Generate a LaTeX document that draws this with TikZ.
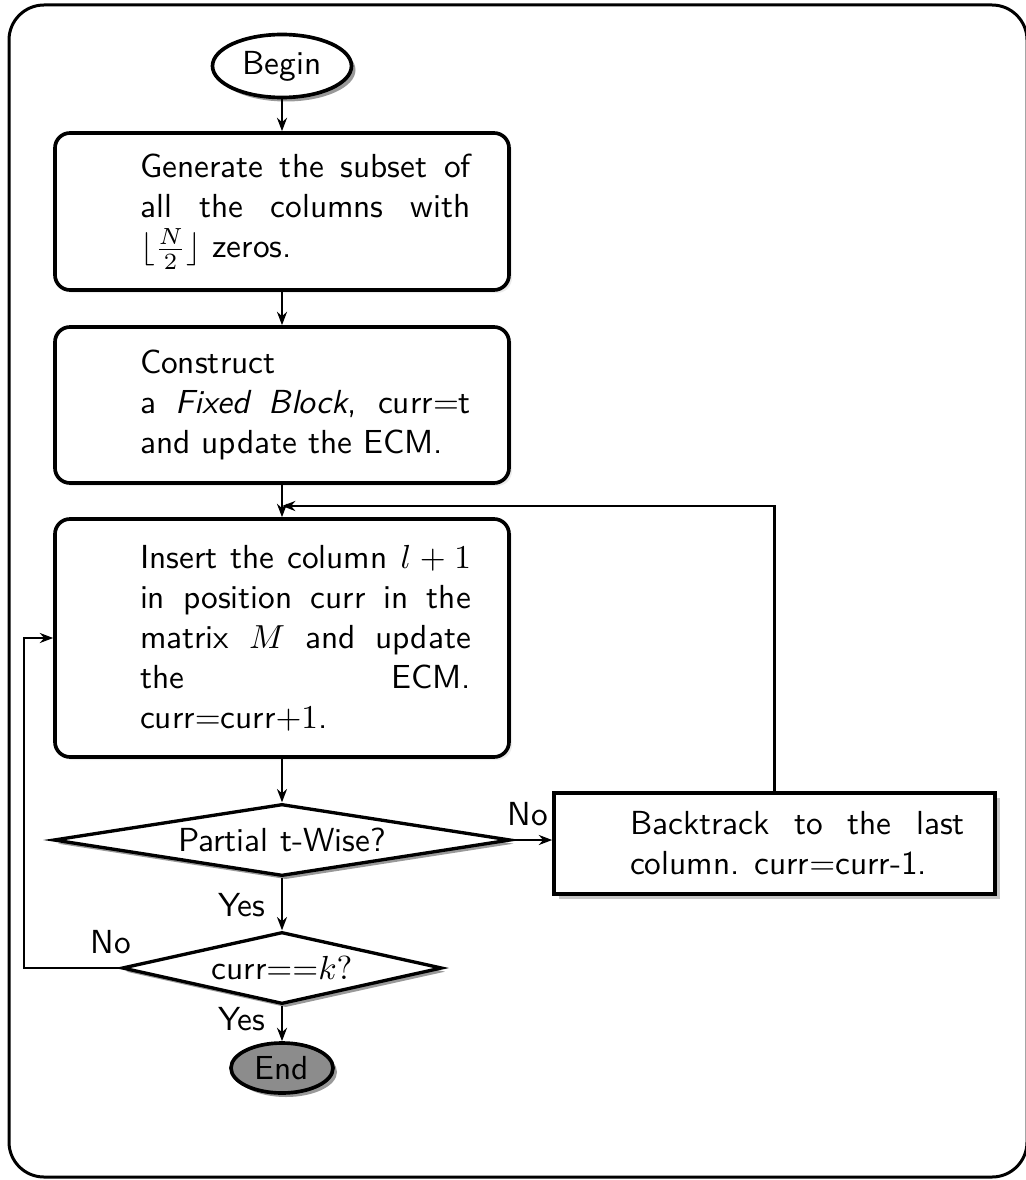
\documentclass[tikz,border=0pt]{standalone}
\usetikzlibrary{shapes.geometric,arrows.meta,shadows}
\begin{document}
\begin{tikzpicture}[x=0.3pt,y=-0.3pt,
  proc/.style={draw, line width=1.1pt, rounded corners=4.5pt, fill=white,
    inner xsep=11.4pt, inner ysep=0pt, minimum width=136.2pt, font=\sffamily,
    drop shadow={shadow xshift=0.9pt, shadow yshift=-0.9pt, opacity=0.15}},
  btbox/.style={draw, line width=1.1pt, fill=white,
    inner xsep=9pt, inner ysep=0pt, minimum width=132.3pt, minimum height=30.3pt, font=\sffamily,
    drop shadow={shadow xshift=1.5pt, shadow yshift=-1.5pt, opacity=0.45}},
  dec/.style={draw, diamond, line width=1pt, fill=white, inner sep=0pt, font=\sffamily,
    drop shadow={shadow xshift=1.1pt, shadow yshift=-1.1pt, opacity=0.8}},
  term/.style={draw, ellipse, line width=1.1pt, inner sep=0pt, font=\sffamily,
    drop shadow={shadow xshift=1.2pt, shadow yshift=-1.2pt, opacity=0.8}},
  arr/.style={-{Stealth[length=4pt,width=3pt]}, line width=0.7pt},
  lbl/.style={font=\sffamily, inner sep=0pt, anchor=base}]
\useasboundingbox (0,0) rectangle (1026,1180);
\draw[line width=0.9pt, rounded corners=10.5pt] (9,5) rectangle (1027,1177);

\node[term, fill=white, minimum width=41.7pt, minimum height=18.9pt] (begin) at (282,66) {Begin};

\node[proc, minimum height=47.1pt] (b1) at (282,211.5) {\hspace*{14.1pt}\parbox{99.3pt}{%
\makebox[\linewidth][s]{Generate the subset of}\\
\makebox[\linewidth][s]{all the columns with}\\
$\lfloor\frac{N}{2}\rfloor$ zeros.}};

\node[proc, minimum height=46.8pt] (b2) at (282,405) {\hspace*{14.1pt}\parbox{99.3pt}{%
Construct\\
\makebox[\linewidth][s]{a \textit{Fixed Block}, curr$=$t}\\
and update the ECM.}};

\node[proc, minimum height=71.4pt] (b3) at (282,638) {\hspace*{14.1pt}\parbox{99.3pt}{%
\makebox[\linewidth][s]{Insert the column $l+1$}\\
\makebox[\linewidth][s]{in position curr in the}\\
\makebox[\linewidth][s]{matrix $M$ and update}\\
\makebox[\linewidth][s]{the ECM.}\\
curr$=$curr$+1$.}};

\node[dec, aspect=6.35, minimum width=137.1pt, minimum height=21.6pt] (d1) at (282,840) {Partial t-Wise?};

\node[btbox] (bt) at (774.5,843.5) {\hspace*{13.8pt}\parbox{100.5pt}{%
\makebox[\linewidth][s]{Backtrack to the last}\\
column. curr$=$curr-1.}};

\node[dec, aspect=4.44, minimum width=96pt, minimum height=21.6pt] (d2) at (282,968) {curr${=}{=}k?$};

\node[term, fill={rgb,255:red,140;green,140;blue,140}, minimum width=30.6pt, minimum height=15pt] (end) at (282,1068) {End};

\node[lbl] (no1) at (528,825) {No};
\node[lbl] (yes1) at (242,916) {Yes};
\node[lbl] (no2) at (111,953) {No};
\node[lbl] (yes2) at (242,1030) {Yes};

\coordinate (loopin) at (282,506);
\coordinate (lft) at (24,968);

\draw[arr] (begin.south) -- (b1.north);
\draw[arr] (b1.south) -- (b2.north);
\draw[arr] (b2.south) -- (b3.north);
\draw[arr] (b3.south) -- (d1.north);
\draw[arr] (d1.east) -- (d1.east -| bt.west);
\draw[arr] (bt.north) |- (loopin);
\draw[arr] (d1.south) -- (d2.north);
\draw[arr] (d2.west) -- (lft) |- (b3.west);
\draw[arr] (d2.south) -- (end.north);
\end{tikzpicture}
\end{document}
